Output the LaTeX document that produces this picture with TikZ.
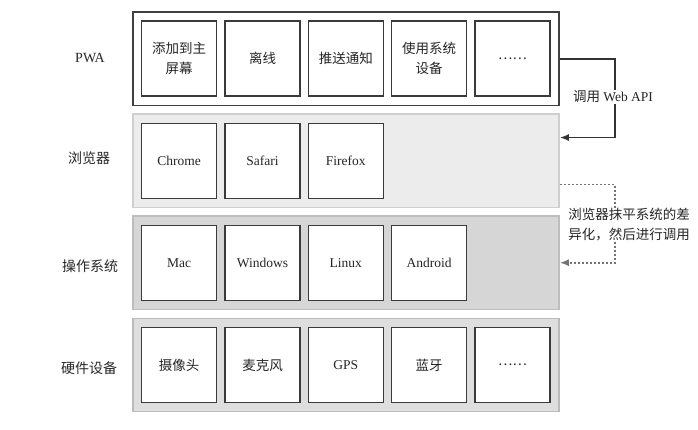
\documentclass[tikz,border=0pt]{standalone}
\usepackage{fontspec}
\setmainfont{Liberation Serif}
\newfontfamily\cjk{Noto Sans CJK SC}
\usetikzlibrary{calc,arrows.meta}
\definecolor{brfill}{HTML}{ECECEC}
\definecolor{brdraw}{HTML}{CFCFCF}
\definecolor{osfill}{HTML}{D6D6D6}
\definecolor{osdraw}{HTML}{BDBDBD}
\definecolor{hwfill}{HTML}{DEDEDE}
\definecolor{hwdraw}{HTML}{BBBBBB}
\definecolor{boxdraw}{HTML}{3A3A3A}
\begin{document}
\begin{tikzpicture}[x=1pt,y=-1pt,
  layer/.style={minimum width=426pt,minimum height=93.3pt,inner sep=0pt,line width=1.6pt},
  itembox/.style={draw=boxdraw,fill=white,line width=1.5pt,minimum width=75pt,minimum height=75pt,inner sep=0pt,align=center,font=\fontsize{13.5}{20}\selectfont,text=black!85},
  sidelabel/.style={font=\fontsize{14}{18}\selectfont,text=black!85},
  note/.style={fill=white,inner sep=1pt,align=center,font=\fontsize{13.5}{20}\selectfont,text=black!85},
  callline/.style={draw=black!80,line width=1.6pt,-{Latex[length=9pt,width=7pt]}},
  diffline/.style={draw=black!55,line width=1.6pt,dash pattern=on 2pt off 2pt,-{Latex[length=9pt,width=7pt]}}
]
\useasboundingbox (0,0) rectangle (698,430);
% layers
\node[layer,draw=black!75,fill=white] (pwa) at (346,58.75) {};
\node[layer,draw=brdraw,fill=brfill] (br) at (346,160.8) {};
\node[layer,draw=osdraw,fill=osfill] (os) at (346,262.7) {};
\node[layer,draw=hwdraw,fill=hwfill] (hw) at (346,365) {};
% side labels
\node[sidelabel] (lpwa) at (90,58) {PWA};
\node[sidelabel] (lbr) at (89,158) {\cjk 浏览器};
\node[sidelabel] (los) at (90,266) {\cjk 操作系统};
\node[sidelabel] (lhw) at (89,368) {\cjk 硬件设备};
% PWA boxes
\node[itembox] (p1) at (179.2,58.7) {\cjk 添加到主\\\cjk 屏幕};
\node[itembox] (p2) at (262.5,58.7) {\cjk 离线};
\node[itembox] (p3) at (345.8,58.7) {\cjk 推送通知};
\node[itembox] (p4) at (429.2,58.7) {\cjk 使用系统\\\cjk 设备};
\node[itembox] (p5) at (512.5,58.7) {\cjk ……};
% browser boxes
\node[itembox] (b1) at (179.2,160.8) {Chrome};
\node[itembox] (b2) at (262.5,160.8) {Safari};
\node[itembox] (b3) at (345.8,160.8) {Firefox};
% OS boxes
\node[itembox] (o1) at (179.2,262.8) {Mac};
\node[itembox] (o2) at (262.5,262.8) {Windows};
\node[itembox] (o3) at (345.8,262.8) {Linux};
\node[itembox] (o4) at (429.2,262.8) {Android};
% hardware boxes
\node[itembox] (h1) at (179.2,365) {\cjk 摄像头};
\node[itembox] (h2) at (262.5,365) {\cjk 麦克风};
\node[itembox] (h3) at (345.8,365) {GPS};
\node[itembox] (h4) at (429.2,365) {\cjk 蓝牙};
\node[itembox] (h5) at (512.5,365) {\cjk ……};
% connectors
\coordinate (c1) at ($(br.north east)!0.255!(br.south east)$);
\coordinate (c2) at ($(br.north east)!0.75!(br.south east)$);
\draw[callline] (pwa.east) -- ++(55,0) |- (c1);
\draw[diffline] (c2) -- ++(55,0) |- (os.east);
\node[note] (n1) at (613,97) {{\cjk 调用} Web API};
\node[note] (n2) at (629,225) {\cjk 浏览器抹平系统的差\\\cjk 异化，然后进行调用};
\end{tikzpicture}
\end{document}
